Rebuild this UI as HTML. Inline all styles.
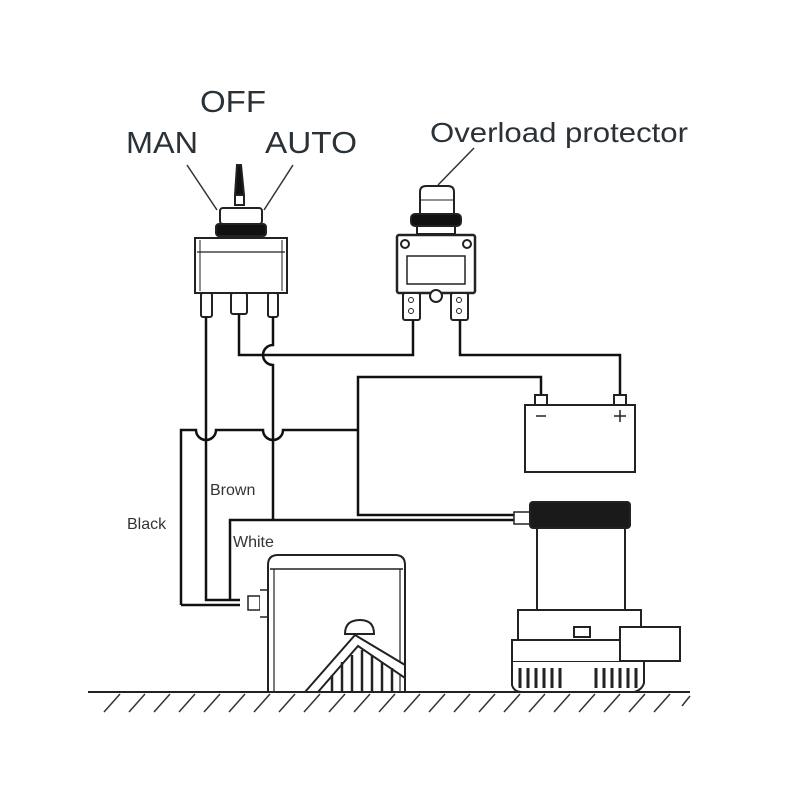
<!DOCTYPE html>
<html><head><meta charset="utf-8"><style>html,body{margin:0;padding:0;background:#fff}svg{display:block}</style></head>
<body>
<svg width="800" height="800" viewBox="0 0 800 800" xmlns="http://www.w3.org/2000/svg" font-family="Liberation Sans, sans-serif">
<rect width="800" height="800" fill="#fff"/>
<g fill="#2a3238">
<text x="200" y="112" font-size="31" textLength="66" lengthAdjust="spacingAndGlyphs">OFF</text>
<text x="126" y="153" font-size="31" textLength="72" lengthAdjust="spacingAndGlyphs">MAN</text>
<text x="265" y="153" font-size="31" textLength="92" lengthAdjust="spacingAndGlyphs">AUTO</text>
<text x="430" y="142" font-size="28" textLength="258" lengthAdjust="spacingAndGlyphs">Overload protector</text>
</g>
<g fill="#333" font-size="16">
<text x="210" y="495">Brown</text>
<text x="127" y="529">Black</text>
<text x="233" y="547">White</text>
</g>
<g stroke="#333" stroke-width="1.5" fill="none">
<line x1="187" y1="165" x2="217" y2="210"/>
<line x1="293" y1="165" x2="264" y2="210"/>
<line x1="474" y1="148" x2="438" y2="185"/>
</g>
<!-- toggle switch -->
<g stroke="#222" stroke-width="2" fill="#fff">
<path d="M235 195 L237 165 L241 165 L244 195 Z" fill="#111"/>
<rect x="235" y="195" width="9" height="10"/>
<rect x="220" y="208" width="42" height="16" rx="3"/>
<rect x="216" y="224" width="50" height="12" rx="3" fill="#111"/>
<rect x="195" y="238" width="92" height="55"/>
<line x1="197" y1="252" x2="285" y2="252" stroke-width="1.2"/>
<line x1="200" y1="240" x2="200" y2="291" stroke-width="1"/>
<line x1="282" y1="240" x2="282" y2="291" stroke-width="1"/>
<rect x="201" y="293" width="11" height="24" rx="2"/>
<rect x="231" y="293" width="16" height="21" rx="2"/>
<rect x="268" y="293" width="10" height="24" rx="2"/>
</g>
<!-- protector -->
<g stroke="#222" stroke-width="2" fill="#fff">
<path d="M420 215 L420 192 Q420 186 426 186 L448 186 Q454 186 454 192 L454 215 Z"/>
<line x1="420" y1="200" x2="454" y2="200" stroke-width="1"/>
<rect x="411" y="214" width="50" height="12" rx="4" fill="#111"/>
<rect x="417" y="226" width="38" height="8"/>
<rect x="397" y="235" width="78" height="58" rx="2" stroke-width="2.5"/>
<rect x="407" y="256" width="58" height="28" stroke-width="1.5"/>
<circle cx="405" cy="244" r="4"/><circle cx="467" cy="244" r="4"/>
<rect x="403" y="293" width="17" height="27" rx="2"/>
<rect x="451" y="293" width="17" height="27" rx="2"/>
<circle cx="436" cy="296" r="6"/>
<circle cx="411" cy="300" r="2.5" stroke-width="1"/><circle cx="411" cy="311" r="2.5" stroke-width="1"/>
<circle cx="459" cy="300" r="2.5" stroke-width="1"/><circle cx="459" cy="311" r="2.5" stroke-width="1"/>
</g>
<!-- wires -->
<g stroke="#111" stroke-width="2.5" fill="none">
<path d="M206 317 L206 600 L240 600"/>
<path d="M239 314 L239 355 L413 355 L413 320"/>
<path d="M273 317 L273 345 A10 10 0 0 0 273 365 L273 520"/>
<path d="M460 320 L460 355 L620 355 L620 395"/>
<path d="M541 395 L541 377 L358 377 L358 515 L520 515"/>
<path d="M181 605 L181 430 L196 430 A10 10 0 0 0 216 430 L263 430 A10 10 0 0 0 283 430 L358 430"/>
<path d="M181 605 L240 605"/>
<path d="M230 600 L230 520 L520 520"/>
</g>
<!-- battery -->
<g stroke="#222" stroke-width="2" fill="#fff">
<rect x="525" y="405" width="110" height="67"/>
<rect x="535" y="395" width="12" height="10"/>
<rect x="614" y="395" width="12" height="10"/>
<line x1="536" y1="416" x2="546" y2="416" stroke-width="1.5"/>
<line x1="614" y1="416" x2="626" y2="416" stroke-width="1.5"/>
<line x1="620" y1="410" x2="620" y2="422" stroke-width="1.5"/>
</g>
<!-- pump -->
<g stroke="#222" stroke-width="2" fill="#fff">
<rect x="514" y="512" width="16" height="12" stroke-width="1.5"/>
<rect x="530" y="502" width="100" height="26" rx="3" fill="#1a1a1a"/>
<rect x="537" y="528" width="88" height="82"/>
<rect x="518" y="610" width="123" height="30"/>
<rect x="512" y="640" width="132" height="22"/>
<rect x="620" y="627" width="60" height="34"/>
<rect x="574" y="627" width="16" height="10"/>
<path d="M512 662 L512 685 Q514 692 522 692 L634 692 Q642 690 644 683 L644 662"/>
<g stroke-width="3">
<line x1="520" y1="668" x2="520" y2="688"/><line x1="528" y1="668" x2="528" y2="688"/>
<line x1="536" y1="668" x2="536" y2="688"/><line x1="544" y1="668" x2="544" y2="688"/>
<line x1="552" y1="668" x2="552" y2="688"/><line x1="560" y1="668" x2="560" y2="688"/>
<line x1="596" y1="668" x2="596" y2="688"/><line x1="604" y1="668" x2="604" y2="688"/>
<line x1="612" y1="668" x2="612" y2="688"/><line x1="620" y1="668" x2="620" y2="688"/>
<line x1="628" y1="668" x2="628" y2="688"/><line x1="636" y1="668" x2="636" y2="688"/>
</g>
</g>
<!-- float switch -->
<g stroke="#222" stroke-width="2" fill="#fff">
<rect x="248" y="596" width="12" height="14" stroke-width="1.5"/>
<path d="M260 590 L268 590 L268 617 L260 617" stroke-width="1.5"/>
<path d="M268 692 L268 565 Q268 555 278 555 L395 555 Q405 555 405 565 L405 692"/>
<line x1="270" y1="569" x2="403" y2="569" stroke-width="1.5"/>
<line x1="274" y1="569" x2="274" y2="692" stroke-width="1.2"/>
<line x1="400" y1="569" x2="400" y2="692" stroke-width="1.2"/>
<path d="M345 634 Q345 620 360 620 Q374 620 374 634 Z"/>
<path d="M305 692 L355 635 L405 665 L405 678 L358 646 L318 692" />
<g stroke-width="2.5">
<line x1="332" y1="692" x2="332" y2="675"/><line x1="342" y1="692" x2="342" y2="662"/>
<line x1="352" y1="692" x2="352" y2="655"/><line x1="362" y1="692" x2="362" y2="650"/>
<line x1="372" y1="692" x2="372" y2="655"/><line x1="382" y1="692" x2="382" y2="662"/>
<line x1="392" y1="692" x2="392" y2="668"/>
</g>
</g>
<!-- ground -->
<line x1="88" y1="692" x2="690" y2="692" stroke="#222" stroke-width="2"/>
<g stroke="#333" stroke-width="1.5">
<path d="M120 694 L104 712 M145 694 L129 712 M170 694 L154 712 M195 694 L179 712 M220 694 L204 712 M245 694 L229 712 M270 694 L254 712 M295 694 L279 712 M320 694 L304 712 M345 694 L329 712 M370 694 L354 712 M395 694 L379 712 M420 694 L404 712 M445 694 L429 712 M470 694 L454 712 M495 694 L479 712 M520 694 L504 712 M545 694 L529 712 M570 694 L554 712 M595 694 L579 712 M620 694 L604 712 M645 694 L629 712 M670 694 L654 712 M690 696 L682 706"/>
</g>
</svg>
</body></html>
